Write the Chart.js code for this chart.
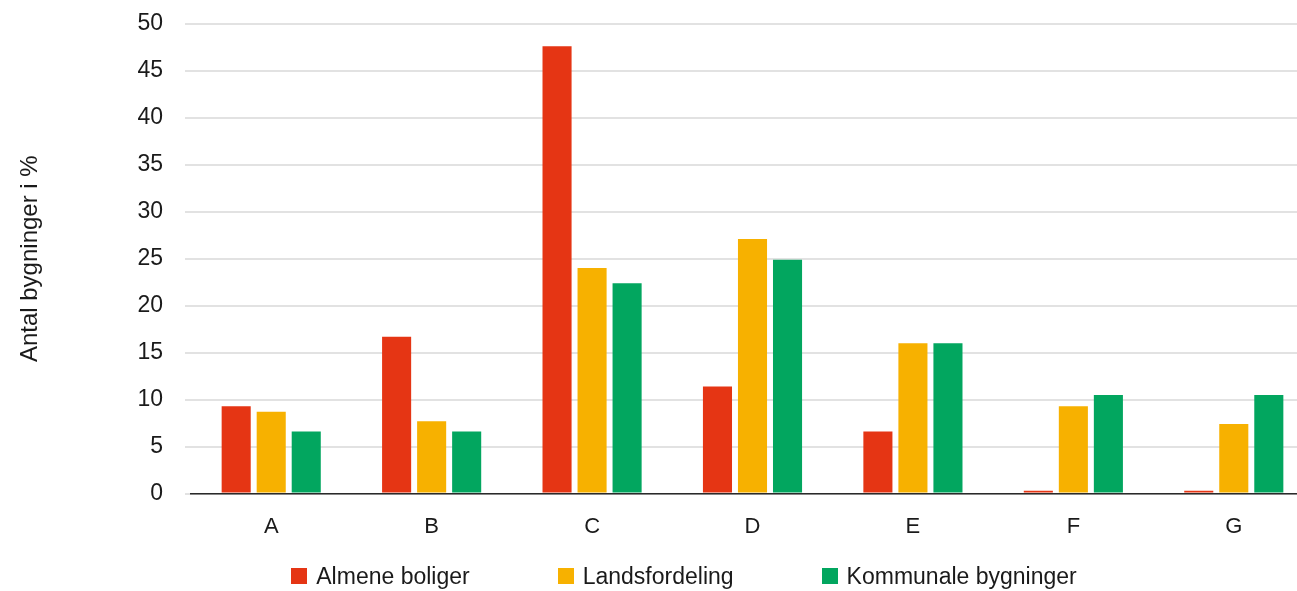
<!DOCTYPE html>
<html>
<head>
<meta charset="utf-8">
<title>Antal bygninger i %</title>
<script src="https://cdn.jsdelivr.net/npm/chart.js@4/dist/chart.umd.min.js"></script>
<style>
  html, body { margin:0; padding:0; background:#fff; overflow:hidden; }
  #wrap { position:relative; width:1360px; height:591px; overflow:hidden; font-family:"Liberation Sans", Arial, sans-serif; }
  #plot { position:absolute; left:0; top:-12px; width:1360px; height:603px; }
  #legend { position:absolute; left:0; top:565px; width:1368px; display:flex; justify-content:center; gap:88px; }
  #legend .item { display:flex; align-items:center; font-size:23px; color:#1a1a1a; line-height:22px; }
  #legend .box { width:16px; height:16px; margin-right:9px; }
</style>
</head>
<body>
<div id="wrap">
  <div id="plot"><canvas id="chart"></canvas></div>
  <div id="legend"></div>
</div>
<script>
// categories and series (percent of buildings)
const categories = ['A', 'B', 'C', 'D', 'E', 'F', 'G'];
const almeneBoliger = [9.3, 16.7, 47.6, 11.4, 6.6, 0.3, 0.3];
const landsfordeling = [8.7, 7.7, 24.0, 27.1, 16.0, 9.3, 7.4];
const kommunaleBygninger = [6.6, 6.6, 22.4, 24.9, 16.0, 10.5, 10.5];
const yTicks = [0, 5, 10, 15, 20, 25, 30, 35, 40, 45, 50];

const seriesNames = ['Almene boliger', 'Landsfordeling', 'Kommunale bygninger'];
const seriesColors = ['#E53514', '#F7B100', '#02A65F'];

const font = '"Liberation Sans", Arial, sans-serif';
Chart.defaults.font.family = font;
Chart.defaults.color = '#1a1a1a';

const chart = new Chart(document.getElementById('chart'), {
  type: 'bar',
  data: {
    labels: categories,
    datasets: [almeneBoliger, landsfordeling, kommunaleBygninger].map((d, i) => ({
      label: seriesNames[i],
      data: d,
      backgroundColor: seriesColors[i],
      borderWidth: 0,
      categoryPercentage: 0.655,
      barPercentage: 0.83
    }))
  },
  options: {
    responsive: true,
    maintainAspectRatio: false,
    animation: false,
    layout: { padding: { top: 10, right: 46, bottom: 39, left: 0 } },
    plugins: {
      tooltip: { enabled: false },
      legend: { display: false }
    },
    scales: {
      x: {
        grid: { display: false },
        border: { color: '#2a2a2a', width: 1.5 },
        ticks: { font: { size: 22 }, padding: 12 }
      },
      y: {
        min: 0,
        max: 50,
        afterBuildTicks: s => { s.ticks = yTicks.map(v => ({ value: v })); },
        afterFit: s => { s.width = 191; },
        border: { display: false },
        grid: { color: '#e2e2e2', lineWidth: 2, tickLength: 6, tickColor: '#e2e2e2' },
        ticks: { font: { size: 23 }, padding: 22, color: '#1a1a1a' },
        title: {
          display: true,
          text: 'Antal bygninger i %',
          font: { size: 24 },
          color: '#1a1a1a',
          padding: { top: 16, bottom: 0 }
        }
      }
    }
  }
});

// legend as html under the canvas, built from the datasets
const legendEl = document.getElementById('legend');
chart.data.datasets.forEach(ds => {
  const item = document.createElement('div');
  item.className = 'item';
  item.innerHTML = '<span class="box" style="background:' + ds.backgroundColor + '"></span>' + ds.label;
  legendEl.appendChild(item);
});
</script>
</body>
</html>
